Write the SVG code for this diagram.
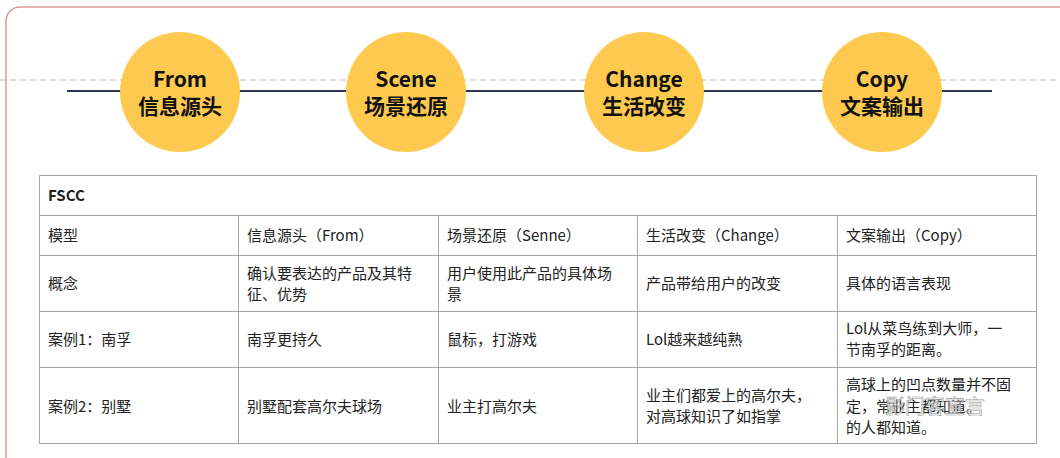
<svg xmlns="http://www.w3.org/2000/svg" width="1060" height="458" viewBox="0 0 1060 458">
<style>
.c{fill:#fec94f}
.t{font-family:"Noto Sans CJK SC",sans-serif;font-weight:bold;font-size:21px;fill:#111;text-anchor:middle}
.g{stroke:#a6a6a6;stroke-width:1;fill:none}
.x{font-family:"Noto Sans CJK SC",sans-serif;font-size:15px;fill:#222}
</style>
<rect width="1060" height="458" fill="#fff"/>
<rect x="6" y="7" width="1070" height="470" rx="14" fill="none" stroke="#dc9a9a" stroke-width="1.5"/>
<line x1="0" y1="80" x2="1060" y2="80" stroke="#bbb" stroke-dasharray="6,4"/>
<g id="connectors"><line x1="67" y1="91" x2="992" y2="91" stroke="#2e3550" stroke-width="2"/></g>
<g id="n1"><circle class="c" cx="180" cy="92" r="60"/><text class="t" x="180" y="87">From</text><text class="t" x="180" y="114">信息源头</text></g>
<g id="n2"><circle class="c" cx="406" cy="92" r="60"/><text class="t" x="406" y="87">Scene</text><text class="t" x="406" y="114">场景还原</text></g>
<g id="n3"><circle class="c" cx="644" cy="92" r="60"/><text class="t" x="644" y="87">Change</text><text class="t" x="644" y="114">生活改变</text></g>
<g id="n4"><circle class="c" cx="882" cy="92" r="60"/><text class="t" x="882" y="87">Copy</text><text class="t" x="882" y="114">文案输出</text></g>
<g id="table">
<rect class="g" x="39.5" y="175.5" width="997" height="268"/>
<path class="g" d="M39.5 215.5H1036.5M39.5 255.5H1036.5M39.5 311.5H1036.5M39.5 367.5H1036.5M238.5 215.5V443.5M438.5 215.5V443.5M637.5 215.5V443.5M837.5 215.5V443.5"/>
<text class="x" x="48" y="201" font-weight="bold">FSCC</text>
<text class="x" x="48" y="241">模型</text>
<text class="x" x="247" y="241">信息源头（From）</text>
<text class="x" x="447" y="241">场景还原（Senne）</text>
<text class="x" x="646" y="241">生活改变（Change）</text>
<text class="x" x="846" y="241">文案输出（Copy）</text>
<text class="x" x="48" y="289">概念</text>
<text class="x" x="247" y="279">确认要表达的产品及其特</text>
<text class="x" x="247" y="300">征、优势</text>
<text class="x" x="447" y="279">用户使用此产品的具体场</text>
<text class="x" x="447" y="300">景</text>
<text class="x" x="646" y="289">产品带给用户的改变</text>
<text class="x" x="846" y="289">具体的语言表现</text>
<text class="x" x="48" y="345">案例1：南孚</text>
<text class="x" x="247" y="345">南孚更持久</text>
<text class="x" x="447" y="345">鼠标，打游戏</text>
<text class="x" x="646" y="345">Lol越来越纯熟</text>
<text class="x" x="846" y="334">Lol从菜鸟练到大师，一</text>
<text class="x" x="846" y="355">节南孚的距离。</text>
<text class="x" x="48" y="412">案例2：别墅</text>
<text class="x" x="247" y="412">别墅配套高尔夫球场</text>
<text class="x" x="447" y="412">业主打高尔夫</text>
<text class="x" x="646" y="401">业主们都爱上的高尔夫，</text>
<text class="x" x="646" y="422">对高球知识了如指掌</text>
<text class="x" x="846" y="390">高球上的凹点数量并不固</text>
<text class="x" x="846" y="412">定，常业主都知道。</text>
<text class="x" x="846" y="433">的人都知道。</text>
</g>
<text x="885" y="414" font-family="Noto Sans CJK SC,sans-serif" font-size="20" fill="#fff" stroke="#888" stroke-width="0.6" opacity="0.85">影门客宣言</text>
</svg>
